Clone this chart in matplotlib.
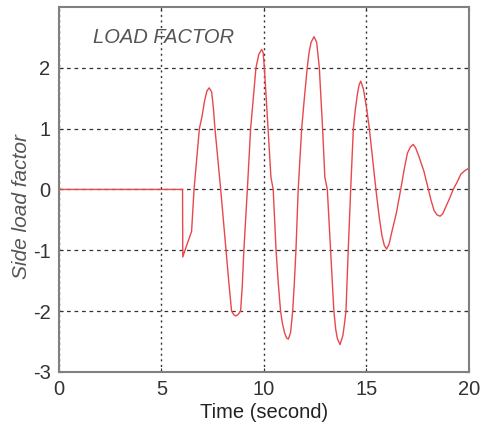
import matplotlib
matplotlib.use("Agg")
import matplotlib.pyplot as plt

plt.rcParams['font.family'] = ['Liberation Sans', 'DejaVu Sans']
plt.rcParams['axes.unicode_minus'] = False

# side load factor
time_s = [0.0, 6.03, 6.04, 6.25, 6.47, 6.59, 6.72, 6.85, 6.98, 7.1, 7.22, 7.33,
          7.45, 7.53, 7.61, 7.75, 7.89, 8.02, 8.15, 8.28, 8.42, 8.53, 8.63, 8.75,
          8.86, 8.94, 9.02, 9.19, 9.35, 9.48, 9.61, 9.75, 9.89, 9.96, 10.02, 10.2,
          10.34, 10.45, 10.59, 10.7, 10.81, 10.9, 11.0, 11.1, 11.19, 11.3, 11.4,
          11.48, 11.56, 11.67, 11.84, 11.97, 12.11, 12.2, 12.3, 12.44, 12.57, 12.7,
          12.78, 12.86, 12.97, 13.09, 13.25, 13.41, 13.5, 13.58, 13.71, 13.85, 13.93,
          14.0, 14.11, 14.23, 14.36, 14.45, 14.55, 14.64, 14.72, 14.85, 15.0, 15.14,
          15.3, 15.46, 15.62, 15.75, 15.87, 15.98, 16.1, 16.2, 16.45, 16.67, 16.85,
          17.0, 17.15, 17.28, 17.4, 17.55, 17.8, 18.02, 18.15, 18.3, 18.45, 18.59,
          18.72, 18.85, 19.05, 19.23, 19.42, 19.6, 19.8, 20.0]
load = [0.0, 0.0, -1.11, -0.9, -0.69, 0.0, 0.5, 1.0, 1.2, 1.45, 1.62, 1.67,
        1.6, 1.35, 1.0, 0.5, 0.0, -0.5, -1.0, -1.5, -2.0, -2.06, -2.08, -2.05,
        -2.0, -1.6, -1.0, 0.0, 1.0, 1.5, 2.0, 2.22, 2.3, 2.25, 2.0, 1.0,
        0.2, 0.0, -1.0, -1.55, -2.0, -2.2, -2.35, -2.44, -2.46, -2.35, -2.0,
        -1.55, -1.0, 0.0, 1.0, 1.5, 2.0, 2.25, 2.42, 2.51, 2.42, 2.0,
        1.5, 1.0, 0.2, 0.0, -1.0, -2.0, -2.3, -2.45, -2.55, -2.4, -2.2,
        -2.0, -1.0, 0.0, 1.0, 1.3, 1.55, 1.72, 1.78, 1.65, 1.35, 1.0,
        0.5, 0.0, -0.45, -0.75, -0.92, -0.98, -0.9, -0.75, -0.4, 0.0, 0.35,
        0.6, 0.7, 0.74, 0.68, 0.55, 0.3, 0.0, -0.18, -0.35, -0.42, -0.44,
        -0.4, -0.3, -0.15, 0.0, 0.12, 0.25, 0.31, 0.35]

xticks = [0, 5, 10, 15, 20]
yticks = [-3, -2, -1, 0, 1, 2]

fig = plt.figure(figsize=(4.83, 4.32), dpi=100)
ax = fig.add_axes([0.122, 0.139, 0.849, 0.845])

ax.plot(time_s, load, color='#e8474c', lw=1.0)

ax.set_xlim(0, 20)
ax.set_ylim(-3, 3)
ax.set_xticks(xticks)
ax.set_yticks(yticks)
ax.xaxis.grid(True, color='#333333', ls=(0, (1.5, 2.5)), lw=1.0)
ax.yaxis.grid(True, color='#333333', ls=(0, (3, 3)), lw=0.9)
ax.tick_params(direction='in', top=True, right=True, length=3,
               labelsize=14.5, colors='#333333', pad=6)
for sp in ax.spines.values():
    sp.set_color('#808080')
    sp.set_linewidth(1.5)

ax.set_xlabel("Time (second)", fontsize=14.5, color='#222222', labelpad=3)
ax.set_ylabel("Side load factor", fontsize=15, color='#555555', style='italic', labelpad=2)
ax.yaxis.set_label_coords(-0.068, 0.452)
ax.text(1.65, 2.5, "LOAD FACTOR", fontsize=14.5, color='#555555', style='italic', va='center')

fig.savefig("out.png", dpi=100)
